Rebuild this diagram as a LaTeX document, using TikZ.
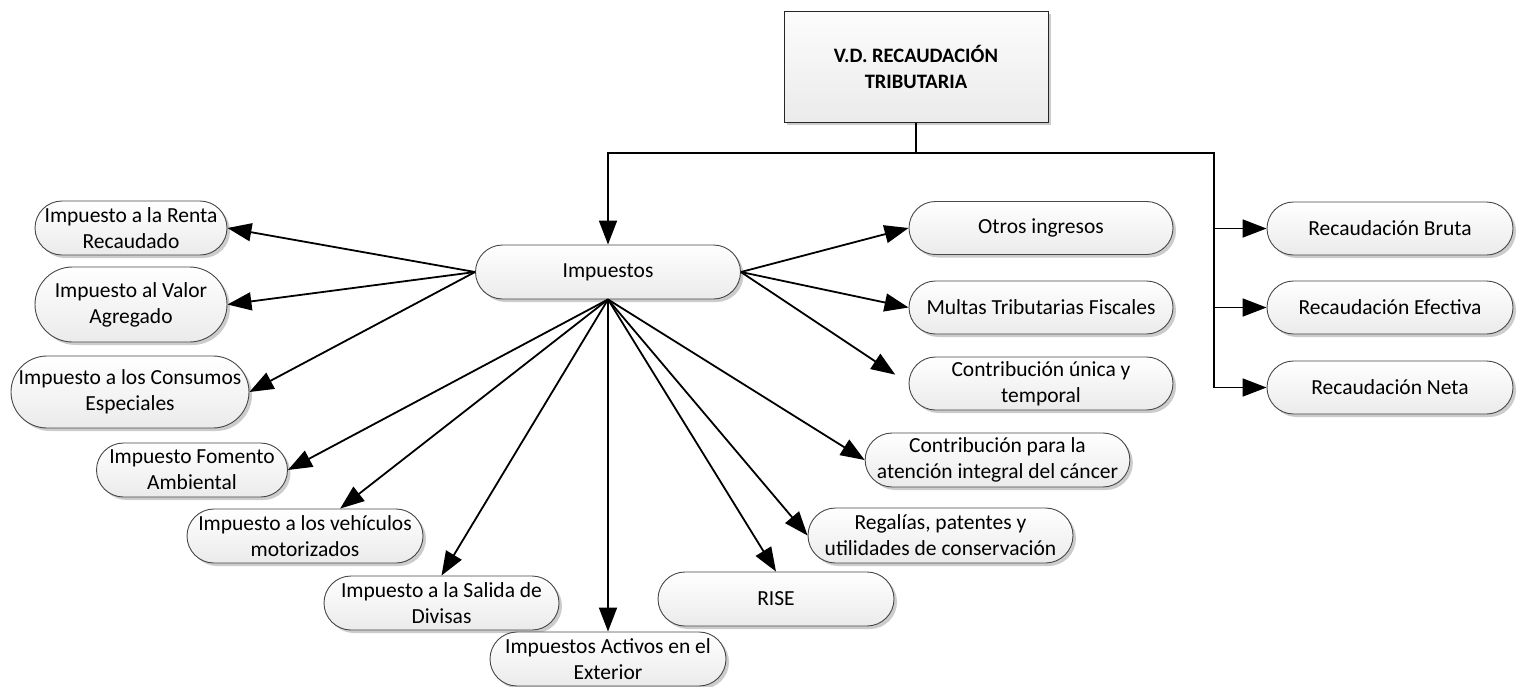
\documentclass[tikz,border=0pt]{standalone}
\usepackage{fontspec}
\setmainfont{Carlito}
\usetikzlibrary{arrows.meta,shapes.misc,shadows}

\tikzset{
  boxshadow/.style={drop shadow={shadow xshift=3pt, shadow yshift=-3pt, fill=black!20, opacity=1}},
  pill/.style={rounded rectangle, draw=black!72, line width=0.9pt,
    top color=white, bottom color=black!8, align=center, inner sep=0pt,
    font=\fontsize{21.5}{26}\selectfont, boxshadow},
  titlebox/.style={rectangle, draw=black!85, line width=1pt,
    top color=black!1, bottom color=black!8, align=center, inner sep=0pt,
    font=\bfseries\fontsize{20.5}{26}\selectfont, boxshadow},
  wh/.style 2 args={minimum width=#1pt, minimum height=#2pt},
  wire/.style={line width=1.8pt, line join=miter},
  link/.style={wire, -{Triangle[length=24pt,width=18pt]}},
}

\begin{document}
\begin{tikzpicture}[x=1pt,y=-1pt]
\useasboundingbox (0,0) rectangle (1518,686);

% root and main branch
\node[titlebox, wh={264}{111}] (vd) at (916,66.5) {V.D. RECAUDACIÓN\\TRIBUTARIA};
\node[pill, wh={265}{54}] (imp) at (608,272) {Impuestos};

% left column
\node[pill, wh={192}{54}] (renta) at (131,228) {Impuesto a la Renta\\Recaudado};
\node[pill, wh={192}{75}] (iva) at (131,304.5) {Impuesto al Valor\\Agregado};
\node[pill, wh={236}{72}] (ice) at (130,392) {Impuesto a los Consumos\\Especiales};
\node[pill, wh={191}{54}] (fom) at (192,470) {Impuesto Fomento\\Ambiental};
\node[pill, wh={236}{54}] (veh) at (305,536) {Impuesto a los vehículos\\motorizados};
\node[pill, wh={235}{54}] (sal) at (441.5,603) {Impuesto a la Salida de\\Divisas};
\node[pill, wh={236}{54}] (act) at (608,659) {Impuestos Activos en el\\Exterior};

% right of the main branch
\node[pill, wh={236}{54}] (rise) at (776,599) {RISE};
\node[pill, wh={265}{55}] (reg) at (940.5,535.5) {Regalías, patentes y\\utilidades de conservación};
\node[pill, wh={263}{54}] (canc) at (997.5,460) {Contribución para la\\atención integral del cáncer};
\node[pill, wh={264}{53}] (otros) at (1041,228) {Otros ingresos};
\node[pill, wh={264}{53}] (multas) at (1041,307.5) {Multas Tributarias Fiscales};
\node[pill, wh={264}{53}] (contrib) at (1041,383.5) {Contribución única y\\temporal};

% measures of collection
\node[pill, wh={246}{53}] (bruta) at (1390,228.5) {Recaudación Bruta};
\node[pill, wh={246}{53}] (efect) at (1390,307.5) {Recaudación Efectiva};
\node[pill, wh={246}{53}] (neta) at (1390,387.5) {Recaudación Neta};

% bus from the root
\coordinate (bus) at (vd.south |- 0,153);
\coordinate (busR) at (1214,153);
\draw[wire] (vd.south) -- (bus);
\draw[link] (bus) -| (imp.north);
\draw[link] (bus) -- (busR) |- (neta.west);
\draw[link] (busR |- bruta) -- (bruta.west);
\draw[link] (busR |- efect) -- (efect.west);

% branches of Impuestos
\draw[link] (imp.west) -- (renta.east);
\draw[link] (imp.west) -- (iva.east);
\draw[link] (imp.west) -- (ice.east);
\draw[link] (imp.south) -- (fom.east);
\draw[link] (imp.south) -- (veh);
\draw[link] (imp.south) -- (sal.north);
\draw[link] (imp.south) -- (act.north);
\draw[link] (imp.south) -- (rise.north);
\draw[link] (imp.south) -- (reg.west);
\draw[link] (imp.south) -- (canc.west);
\draw[link] (imp.east) -- (otros.west);
\draw[link] (imp.east) -- (multas.west);
\draw[link, shorten >=16pt] (imp.east) -- (contrib.west);
\end{tikzpicture}
\end{document}
